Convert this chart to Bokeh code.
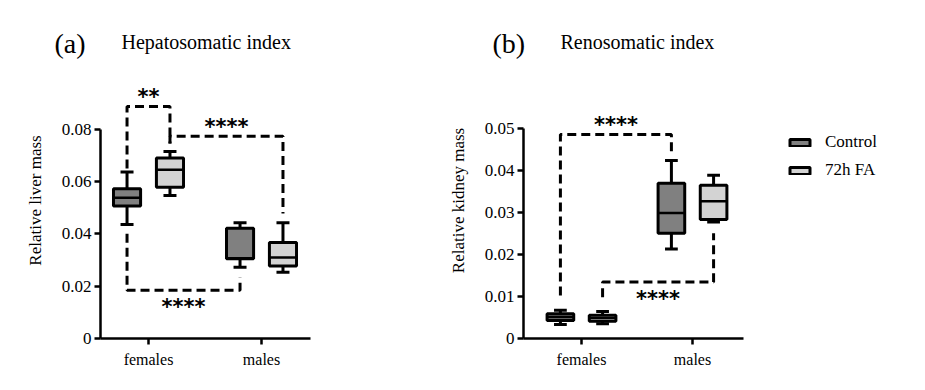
from bokeh.plotting import figure
from bokeh.layouts import row, column
from bokeh.models import (Range1d, FixedTicker, Legend, LegendItem,
                          ColumnDataSource)
from bokeh.core.properties import value
from bokeh.embed import file_html
from bokeh.resources import INLINE

# ---------------- data ----------------
groups = ["females", "males"]
treatments = ["Control", "72h FA"]
colors = ["#808080", "#d3d3d3"]
panel_letters = ["(a)", "(b)"]
panel_titles = ["Hepatosomatic index", "Renosomatic index"]

# Panel (a) Hepatosomatic index: [females, males]
liver_ctrl_low = [0.0436, 0.0272]
liver_ctrl_q1 = [0.0506, 0.0305]
liver_ctrl_med = [0.0538, 0.0307]
liver_ctrl_q3 = [0.0572, 0.0421]
liver_ctrl_high = [0.0636, 0.0442]
liver_fa_low = [0.0547, 0.0253]
liver_fa_q1 = [0.0578, 0.0277]
liver_fa_med = [0.0645, 0.0310]
liver_fa_q3 = [0.0690, 0.0367]
liver_fa_high = [0.0715, 0.0442]

# Panel (b) Renosomatic index: [females, males]
kidney_ctrl_low = [0.0033, 0.0213]
kidney_ctrl_q1 = [0.0043, 0.0250]
kidney_ctrl_med = [0.0051, 0.0298]
kidney_ctrl_q3 = [0.0059, 0.0369]
kidney_ctrl_high = [0.0067, 0.0423]
kidney_fa_low = [0.0035, 0.0277]
kidney_fa_q1 = [0.0041, 0.0283]
kidney_fa_med = [0.0049, 0.0326]
kidney_fa_q3 = [0.0055, 0.0364]
kidney_fa_high = [0.0064, 0.0388]

# significance brackets: (group, treatment) -> (group, treatment)
liver_br_from = [(0, 0), (0, 1), (0, 0)]
liver_br_to = [(0, 1), (1, 1), (1, 0)]
liver_br_height = [0.0887, 0.0773, 0.0184]
liver_br_end_from = [0.0650, 0.0745, 0.0400]
liver_br_end_to = [0.0745, 0.0478, 0.0233]
liver_br_text = ["**", "****", "****"]
liver_br_below = [False, False, True]

kidney_br_from = [(0, 0), (0, 1)]
kidney_br_to = [(1, 0), (1, 1)]
kidney_br_height = [0.0485, 0.0134]
kidney_br_end_from = [0.0102, 0.0098]
kidney_br_end_to = [0.0443, 0.0250]
kidney_br_text = ["****", "****"]
kidney_br_below = [False, True]

liver_ticks = [0, 0.02, 0.04, 0.06, 0.08]
liver_tick_labels = ["0", "0.02", "0.04", "0.06", "0.08"]
kidney_ticks = [0, 0.01, 0.02, 0.03, 0.04, 0.05]
kidney_tick_labels = ["0", "0.01", "0.02", "0.03", "0.04", "0.05"]

OFFSET = 0.19
BOX_W = 0.24
CAP_W = 0.115
SERIF = "Liberation Serif"
PANEL_H = 325


def gx(g, t):
    return (g + 1) + (-OFFSET if t == 0 else OFFSET)


def make_panel(width, border_left, border_right, xr, yr, x_bounds, y_bounds,
               ticks, tick_labels, ylabel, stats, brackets):
    p = figure(width=width, height=PANEL_H, output_backend="svg",
               toolbar_location=None, min_border_left=border_left,
               min_border_right=border_right, min_border_top=2,
               min_border_bottom=47, x_range=Range1d(*xr),
               y_range=Range1d(*yr))
    p.outline_line_color = None
    p.xgrid.visible = False
    p.ygrid.visible = False
    p.background_fill_color = "white"

    for ax in (p.xaxis[0], p.yaxis[0]):
        ax.axis_line_width = 2.5
        ax.axis_line_color = "black"
        ax.major_tick_line_width = 2.5
        ax.major_tick_line_color = "black"
        ax.major_tick_out = 6
        ax.major_tick_in = 0
        ax.minor_tick_line_color = None
        ax.major_label_text_font = SERIF
        ax.major_label_text_color = "black"
    p.xaxis.bounds = x_bounds
    p.yaxis.bounds = y_bounds
    p.xaxis.ticker = FixedTicker(ticks=[1, 2])
    p.xaxis.major_label_overrides = {1: groups[0], 2: groups[1]}
    p.xaxis.major_label_text_font_size = "16px"
    p.xaxis.major_label_standoff = 6
    p.yaxis.ticker = FixedTicker(ticks=ticks)
    p.yaxis.major_label_overrides = {t: l for t, l in zip(ticks, tick_labels)}
    p.yaxis.major_label_text_font_size = "17px"
    p.yaxis.major_label_standoff = 3
    p.yaxis.axis_label = ylabel
    p.yaxis.axis_label_text_font = SERIF
    p.yaxis.axis_label_text_font_style = "normal"
    p.yaxis.axis_label_text_font_size = "17px"
    p.yaxis.axis_label_text_color = "black"
    p.yaxis.axis_label_standoff = 14

    renderers = []
    for t, (low, q1, med, q3, high) in enumerate(stats):
        xs = [gx(g, t) for g in range(len(groups))]
        src = ColumnDataSource(dict(x=xs, low=low, q1=q1, med=med, q3=q3,
                                    high=high,
                                    cl=[x - CAP_W / 2 for x in xs],
                                    cr=[x + CAP_W / 2 for x in xs],
                                    bl=[x - BOX_W / 2 for x in xs],
                                    br=[x + BOX_W / 2 for x in xs]))
        p.segment(x0="x", y0="low", x1="x", y1="high", source=src,
                  line_color="black", line_width=3)
        p.segment(x0="cl", y0="low", x1="cr", y1="low", source=src,
                  line_color="black", line_width=3)
        p.segment(x0="cl", y0="high", x1="cr", y1="high", source=src,
                  line_color="black", line_width=3)
        r = p.vbar(x="x", width=BOX_W, bottom="q1", top="q3", source=src,
                   fill_color=colors[t], line_color="black", line_width=3)
        p.segment(x0="bl", y0="med", x1="br", y1="med", source=src,
                  line_color="black", line_width=2.5)
        renderers.append(r)

    (b_from, b_to, b_h, b_e1, b_e2, b_txt, b_below) = brackets
    xs_l, ys_l = [], []
    tx, ty, tt, toff = [], [], [], []
    for f, to, h, e1, e2, txt, below in zip(b_from, b_to, b_h, b_e1, b_e2,
                                            b_txt, b_below):
        x1 = gx(*f)
        x2 = gx(*to)
        xs_l.append([x1, x1, x2, x2])
        ys_l.append([e1, h, h, e2])
        tx.append((x1 + x2) / 2)
        ty.append(h)
        tt.append(txt)
        toff.append(17 if below else -9)
    p.multi_line(xs=xs_l, ys=ys_l, line_color="black", line_width=3,
                 line_dash="9 5")
    p.text(x=tx, y=ty, text=tt, y_offset=toff, text_align="center",
           text_baseline="alphabetic", text_font=value("DejaVu Sans"),
           text_font_style="bold", text_font_size="21px", text_color="black")
    return p, renderers


liver_stats = [
    (liver_ctrl_low, liver_ctrl_q1, liver_ctrl_med, liver_ctrl_q3, liver_ctrl_high),
    (liver_fa_low, liver_fa_q1, liver_fa_med, liver_fa_q3, liver_fa_high),
]
kidney_stats = [
    (kidney_ctrl_low, kidney_ctrl_q1, kidney_ctrl_med, kidney_ctrl_q3, kidney_ctrl_high),
    (kidney_fa_low, kidney_fa_q1, kidney_fa_med, kidney_fa_q3, kidney_fa_high),
]

# header with panel letters and titles (pixel coordinates)
HEADER_H = 60
header = figure(width=925, height=HEADER_H, output_backend="svg",
                toolbar_location=None, x_range=Range1d(0, 925),
                y_range=Range1d(HEADER_H, 0), min_border=0)
header.axis.visible = False
header.grid.visible = False
header.outline_line_color = None
header.text(x=[54, 492], y=[42.5, 42.5], text=panel_letters,
            text_font=value(SERIF), text_font_size="28px",
            text_color="black", text_baseline="alphabetic")
header.text(x=[121, 560], y=[41.5, 41.5], text=panel_titles,
            text_font=value(SERIF), text_font_size="20px",
            text_color="black", text_baseline="alphabetic")

# frame top at page y=62, bottom at 338
xa = (0.5752, 2.4336)
ya = (0.0, 0.1055)
p1, _ = make_panel(400, 100, 90, xa, ya, xa, (0, 0.08), liver_ticks,
                   liver_tick_labels, "Relative liver mass", liver_stats,
                   (liver_br_from, liver_br_to, liver_br_height,
                    liver_br_end_from, liver_br_end_to, liver_br_text,
                    liver_br_below))

xb = (0.4775, 3.919)
yb = (0.0, 0.0656)
p2, rends = make_panel(525, 123, 20, xb, yb, (0.4775, 2.459), (0, 0.05),
                       kidney_ticks, kidney_tick_labels,
                       "Relative kidney mass", kidney_stats,
                       (kidney_br_from, kidney_br_to, kidney_br_height,
                        kidney_br_end_from, kidney_br_end_to, kidney_br_text,
                        kidney_br_below))

legend = Legend(items=[LegendItem(label=treatments[i], renderers=[rends[i]])
                       for i in range(2)],
                location=(264, 158), glyph_width=25, glyph_height=9,
                label_standoff=13, spacing=8, padding=0, margin=0,
                label_height=20, label_text_font=SERIF,
                label_text_font_size="17px", label_text_color="black",
                border_line_color=None, background_fill_alpha=0)
p2.add_layout(legend)

layout = column(header, row(p1, p2))
open("out.html", "w").write(file_html(layout, INLINE))
